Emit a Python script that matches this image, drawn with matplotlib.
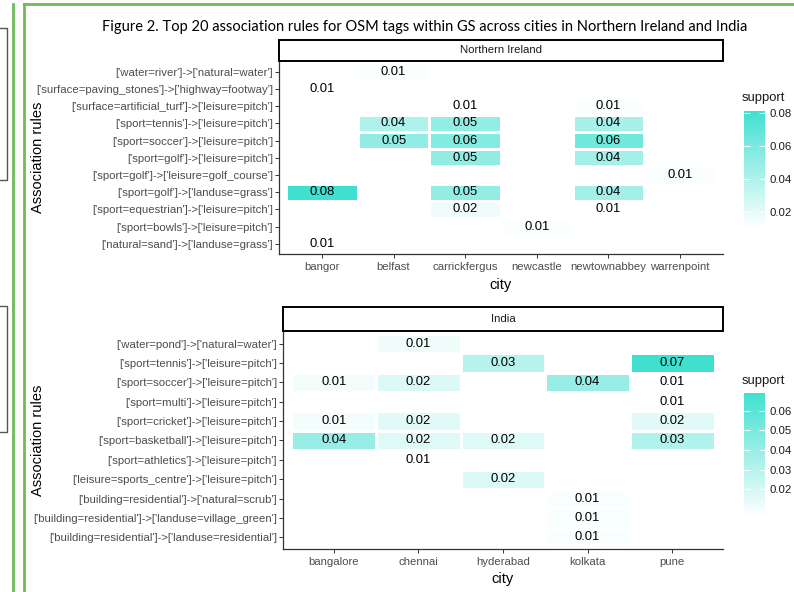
import numpy as np
import matplotlib
matplotlib.use("Agg")
import matplotlib.pyplot as plt
from matplotlib.colors import LinearSegmentedColormap, Normalize
from matplotlib.cm import ScalarMappable
from matplotlib.lines import Line2D
from matplotlib.patches import Rectangle

plt.rcParams['font.family'] = ['Liberation Sans', 'DejaVu Sans']

W, H = 794, 592

# ---- data (rules listed top to bottom as in the figure) ----
ni_cities = ['bangor', 'belfast', 'carrickfergus', 'newcastle', 'newtownabbey', 'warrenpoint']
ni_rules = [
    "['water=river']->['natural=water']",
    "['surface=paving_stones']->['highway=footway']",
    "['surface=artificial_turf']->['leisure=pitch']",
    "['sport=tennis']->['leisure=pitch']",
    "['sport=soccer']->['leisure=pitch']",
    "['sport=golf']->['leisure=pitch']",
    "['sport=golf']->['leisure=golf_course']",
    "['sport=golf']->['landuse=grass']",
    "['sport=equestrian']->['leisure=pitch']",
    "['sport=bowls']->['leisure=pitch']",
    "['natural=sand']->['landuse=grass']",
]
N = None
ni_support = [
    [N,     0.012, N,     N,     N,     N],
    [0.010, N,     N,     N,     N,     N],
    [N,     N,     0.010, N,     0.012, N],
    [N,     0.040, 0.050, N,     0.043, N],
    [N,     0.051, 0.056, N,     0.063, N],
    [N,     N,     0.051, N,     0.044, N],
    [N,     N,     N,     N,     N,     0.012],
    [0.081, N,     0.050, N,     0.044, N],
    [N,     N,     0.016, N,     0.010, N],
    [N,     N,     N,     0.012, N,     N],
    [0.010, N,     N,     N,     N,     N],
]
ni_ticks = [0.02, 0.04, 0.06, 0.08]

in_cities = ['bangalore', 'chennai', 'hyderabad', 'kolkata', 'pune']
in_rules = [
    "['water=pond']->['natural=water']",
    "['sport=tennis']->['leisure=pitch']",
    "['sport=soccer']->['leisure=pitch']",
    "['sport=multi']->['leisure=pitch']",
    "['sport=cricket']->['leisure=pitch']",
    "['sport=basketball']->['leisure=pitch']",
    "['sport=athletics']->['leisure=pitch']",
    "['leisure=sports_centre']->['leisure=pitch']",
    "['building=residential']->['natural=scrub']",
    "['building=residential']->['landuse=village_green']",
    "['building=residential']->['landuse=residential']",
]
in_support = [
    [N,     0.011, N,     N,     N],
    [N,     N,     0.030, N,     0.069],
    [0.010, 0.018, N,     0.040, 0.006],
    [N,     N,     N,     N,     0.006],
    [0.010, 0.016, N,     N,     0.016],
    [0.040, 0.017, 0.017, N,     0.032],
    [N,     0.006, N,     N,     N],
    [N,     N,     0.018, N,     N],
    [N,     N,     N,     0.008, N],
    [N,     N,     N,     0.008, N],
    [N,     N,     N,     0.008, N],
]
in_ticks = [0.02, 0.03, 0.04, 0.05, 0.06]

cmap = LinearSegmentedColormap.from_list('wt', ['#ffffff', '#40e0d0'])


def fig_rect(x0, y0, x1, y1):
    # pixel box (top-left origin) -> figure fraction [l, b, w, h]
    return [x0 / W, 1 - y1 / H, (x1 - x0) / W, (y1 - y0) / H]


def panel(fig, box, strip_box, cbar_box, title_y, cities, rules, support, ticks,
          strip_label, ylab_y, xlab_y):
    vals = np.array([[np.nan if v is None else v for v in row] for row in support], dtype=float)
    norm = Normalize(np.nanmin(vals), np.nanmax(vals))
    nr, nc = vals.shape

    ax = fig.add_axes(fig_rect(*box))
    ax.pcolormesh(np.arange(nc + 1) - 0.5, np.arange(nr + 1) - 0.5,
                  np.ma.masked_invalid(vals), cmap=cmap, norm=norm,
                  edgecolors='white', linewidth=1.0)
    for i in range(nr):
        for j in range(nc):
            if not np.isnan(vals[i, j]):
                ax.text(j, i, '%.2f' % vals[i, j], ha='center', va='center',
                        fontsize=9.4, color='black')
    ex = 0.1
    ax.set_xlim(-0.5 - ex, nc - 0.5 + ex)
    ax.set_ylim(nr - 0.5 + 0.1, -0.5 - 0.15)
    ax.set_xticks(range(nc))
    ax.set_xticklabels(cities)
    ax.set_yticks(range(nr))
    ax.set_yticklabels(rules)
    for s in ['top', 'right']:
        ax.spines[s].set_visible(False)
    for s in ['left', 'bottom']:
        ax.spines[s].set_color('#333333')
        ax.spines[s].set_linewidth(0.9)
    ax.tick_params(axis='both', length=3, width=0.7, color='#333333',
                   labelsize=8.2, labelcolor='#4d4d4d')
    ax.tick_params(axis='y', pad=1.2)
    ax.tick_params(axis='x', pad=3)

    sax = fig.add_axes(fig_rect(*strip_box))
    sax.set_axis_off()
    sax.add_patch(Rectangle((0, 0), 1, 1, transform=sax.transAxes,
                            facecolor='white', edgecolor='black', linewidth=1.4,
                            clip_on=False))
    sax.text(0.5, 0.5, strip_label, ha='center', va='center', fontsize=8.2,
             color='#1a1a1a', transform=sax.transAxes)

    cax = fig.add_axes(fig_rect(*cbar_box))
    cb = fig.colorbar(ScalarMappable(norm=norm, cmap=cmap), cax=cax, ticks=ticks)
    cb.outline.set_visible(False)
    cb.ax.set_yticklabels(['%.2f' % t for t in ticks])
    cb.ax.tick_params(direction='in', length=4, width=0.8, color='white',
                      left=True, right=True, labelsize=8.2, labelcolor='#1a1a1a', pad=3)
    fig.text(742 / W, 1 - title_y / H, 'support', ha='left', va='center',
             fontsize=9.4, color='#1a1a1a')

    fig.text(38 / W, 1 - ylab_y / H, 'Association rules', rotation=90,
             ha='center', va='center', fontsize=10.5, color='black')
    cx = (box[0] + box[2]) / 2
    fig.text(cx / W, 1 - xlab_y / H, 'city', ha='center', va='center',
             fontsize=10.5, color='black')
    return ax


fig = plt.figure(figsize=(W / 100, H / 100), dpi=100)

# page decorations (document frame around the figure)
green = '#6dbb5a'
for (x0, y0, x1, y1) in [(13, 4, 13, H), (24, 4, 24, H), (24, 4, W, 4)]:
    fig.add_artist(Line2D([x0 / W, x1 / W], [1 - y0 / H, 1 - y1 / H],
                          transform=fig.transFigure, color=green, linewidth=2))
for (ya, yb) in [(28, 180), (306, 432)]:
    fig.add_artist(Line2D([0, 7 / W, 7 / W, 0], [1 - ya / H, 1 - ya / H, 1 - yb / H, 1 - yb / H],
                          transform=fig.transFigure, color='#555555', linewidth=1))

fig.text(425 / W, 1 - 27 / H,
         'Figure 2. Top 20 association rules for OSM tags within GS across cities in Northern Ireland and India',
         ha='center', va='center', fontsize=10.5, family=['Lato', 'DejaVu Sans'], color='black')

panel(fig, (279, 60.7, 723, 254), (279, 40, 723, 60.7), (744, 111, 765, 228), 98,
      ni_cities, ni_rules, ni_support, ni_ticks, 'Northern Ireland', 157, 285)
panel(fig, (283, 331, 723, 549), (283, 307, 723, 331), (744, 393, 765, 517), 381,
      in_cities, in_rules, in_support, in_ticks, 'India', 440, 579)

fig.savefig('out.png', dpi=100)
